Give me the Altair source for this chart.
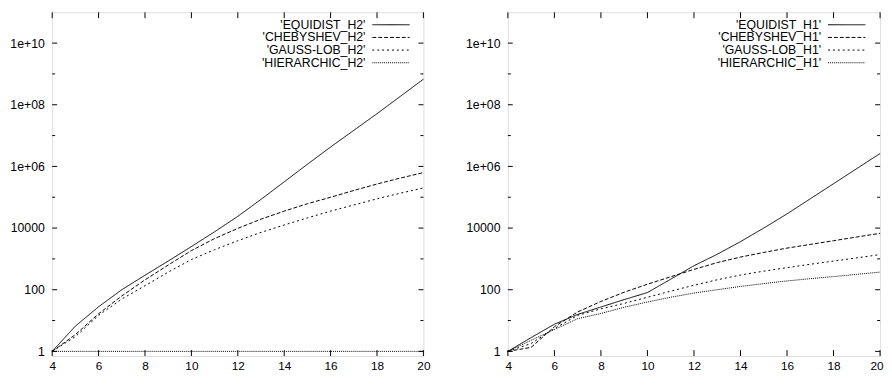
import altair as alt
import pandas as pd

# ---------------- data ----------------
X = list(range(4, 21))

EQUIDIST_H2 = [1, 6.6, 28, 100, 295, 851, 2512, 7586, 23990, 85114, 316228,
               1.175e6, 4.27e6, 1.48e7, 5.13e7, 1.86e8, 6.76e8]
CHEBYSHEV_H2 = [1, 3.5, 16.6, 63, 209, 631, 1862, 4571, 9772, 19498, 35481,
                61660, 1.0e5, 1.66e5, 2.69e5, 4.17e5, 6.31e5]
GAUSSLOB_H2 = [1, 3.0, 14.8, 50, 135, 372, 955, 1995, 3890, 7244, 12589,
               21380, 35481, 56234, 89125, 1.35e5, 2.0e5]
HIERARCHIC_H2 = [1] * 17

EQUIDIST_H1 = [1, 2.8, 7.6, 15.8, 27.5, 47.9, 81, 220, 600, 1413, 3631,
               10000, 28840, 89125, 2.75e5, 8.5e5, 2.63e6]
CHEBYSHEV_H1 = [1, 1.35, 6.3, 19, 41.7, 83, 151, 263, 457, 759, 1148,
                1622, 2239, 2951, 3890, 5129, 6761]
GAUSSLOB_H1 = [1, 1.8, 5.5, 14.7, 24, 36, 57, 90, 140, 210, 300,
               400, 520, 670, 850, 1080, 1380]
HIERARCHIC_H1 = [1, 2.3, 5.1, 11.5, 17, 27, 40, 57, 78, 100, 128,
                 158, 193, 228, 267, 315, 373]

X_TICKS = [4, 6, 8, 10, 12, 14, 16, 18, 20]
Y_MAJOR = [1, 1e2, 1e4, 1e6, 1e8, 1e10]
Y_MINOR = [10, 1e3, 1e5, 1e7, 1e9]

DASHES = [[1, 0], [4, 2], [2, 3], [1, 1]]

PANELS = [
    (["'EQUIDIST_H2'", "'CHEBYSHEV_H2'", "'GAUSS-LOB_H2'", "'HIERARCHIC_H2'"],
     [EQUIDIST_H2, CHEBYSHEV_H2, GAUSSLOB_H2, HIERARCHIC_H2], 378, False),
    (["'EQUIDIST_H1'", "'CHEBYSHEV_H1'", "'GAUSS-LOB_H1'", "'HIERARCHIC_H1'"],
     [EQUIDIST_H1, CHEBYSHEV_H1, GAUSSLOB_H1, HIERARCHIC_H1], 379, True),
]

H = 350
FONT = "Liberation Sans"

xscale = alt.Scale(domain=[4, 20], nice=False, zero=False)
yscale = alt.Scale(type="log", domain=[0.708, 1e11], nice=False)

yaxis = alt.Axis(values=Y_MAJOR, title=None, ticks=False, domain=False, grid=False,
                 labelFont=FONT, labelFontSize=12.5, labelColor="black", labelPadding=8,
                 minExtent=44, maxExtent=44,
                 labelExpr="datum.value < 1e5 ? format(datum.value, 'd') : "
                           "'1e+' + (round(log(datum.value)/LN10) < 10 ? '0' : '') + "
                           "round(log(datum.value)/LN10)")


def make_xaxis(flush):
    if flush:
        return alt.Axis(values=X_TICKS, title=None, ticks=False, domain=False, grid=False,
                        labelFont=FONT, labelFontSize=12, labelColor="black",
                        labelPadding=5, labelFlush=True, labelFlushOffset=3)
    return alt.Axis(values=X_TICKS, title=None, ticks=False, domain=False, grid=False,
                    labelFont=FONT, labelFontSize=12, labelColor="black",
                    labelPadding=5, labelFlush=False)


def panel(labels, series, W, flush):
    xaxis = make_xaxis(flush)

    def xe():
        return alt.X("x:Q", scale=xscale, axis=xaxis)

    def ye():
        return alt.Y("y:Q", scale=yscale, axis=yaxis)

    layers = []
    for lab, vals, dash in zip(labels, series, DASHES):
        df = pd.DataFrame({"x": X, "y": vals})
        layers.append(
            alt.Chart(df).mark_line(color="black", strokeWidth=1, strokeDash=dash)
            .encode(x=xe(), y=ye())
        )
    # legend (gnuplot style: label then line sample)
    for i, (lab, dash) in enumerate(zip(labels, DASHES)):
        yy = 12.7 + 12.9 * i
        ldf = pd.DataFrame({"label": [lab]})
        layers.append(
            alt.Chart(ldf).mark_text(align="right", baseline="middle", font=FONT,
                                     fontSize=12.5, color="black")
            .encode(text="label:N", x=alt.value(319), y=alt.value(yy))
        )
        layers.append(
            alt.Chart(ldf).mark_rule(color="black", strokeWidth=1, strokeDash=dash)
            .encode(x=alt.value(326), x2=alt.value(364), y=alt.value(yy))
        )
    # inward ticks
    ymaj = pd.DataFrame({"y": Y_MAJOR})
    ymin = pd.DataFrame({"y": Y_MINOR})
    xt = pd.DataFrame({"x": X_TICKS})
    tick = dict(color="black", strokeWidth=1)
    layers += [
        alt.Chart(ymaj).mark_rule(**tick).encode(y=ye(), x=alt.value(0), x2=alt.value(5)),
        alt.Chart(ymaj).mark_rule(**tick).encode(y=ye(), x=alt.value(W - 5), x2=alt.value(W)),
        alt.Chart(ymin).mark_rule(**tick).encode(y=ye(), x=alt.value(0), x2=alt.value(3)),
        alt.Chart(ymin).mark_rule(**tick).encode(y=ye(), x=alt.value(W - 3), x2=alt.value(W)),
        alt.Chart(xt).mark_rule(**tick).encode(x=xe(), y=alt.value(H), y2=alt.value(H - 6)),
        alt.Chart(xt).mark_rule(**tick).encode(x=xe(), y=alt.value(0), y2=alt.value(6)),
    ]
    return alt.layer(*layers).properties(width=W, height=H)


charts = [panel(l, s, w, f) for l, s, w, f in PANELS]

chart = alt.hconcat(*charts, spacing=33, padding=0).configure_view(
    stroke="black", strokeWidth=1
).configure(background="white")

chart.save("out.html", embed_options={"renderer": "svg", "actions": False})
